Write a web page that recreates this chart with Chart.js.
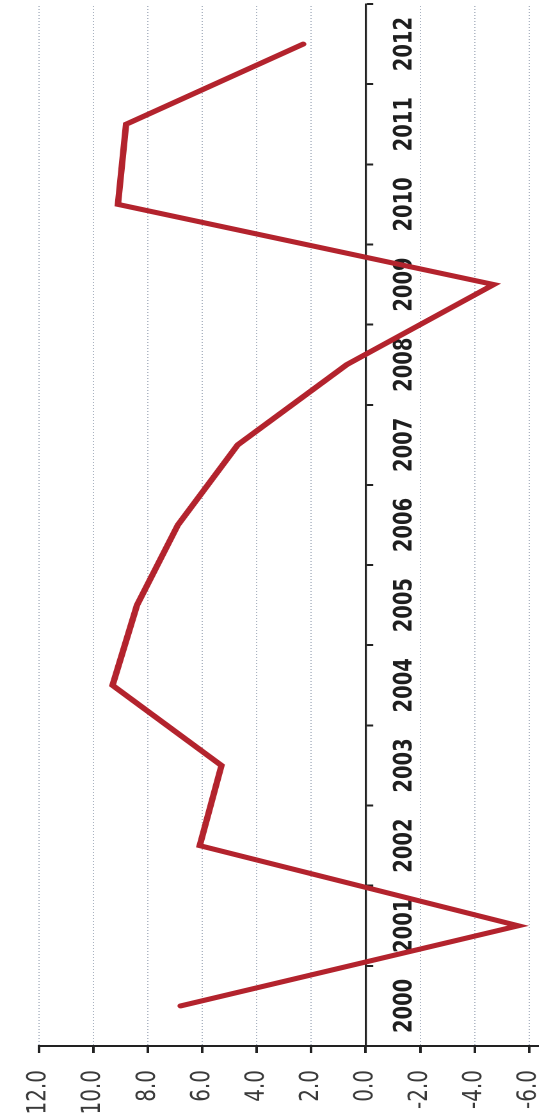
<!DOCTYPE html>
<html>
<head>
<meta charset="utf-8">
<script src="https://cdn.jsdelivr.net/npm/chart.js@4.4.1/dist/chart.umd.min.js"></script>
<style>
  html, body { margin: 0; padding: 0; background: #ffffff; overflow: hidden; }
  body { width: 539px; height: 1115px; position: relative; }
  /* chart is drawn upright, then turned a quarter to the left like the picture */
  #wrap {
    position: absolute; left: 0; top: 0;
    width: 1115px; height: 453px;
    transform-origin: 0 0;
    transform: translate(0px, 1115px) rotate(-90deg) scaleY(1.28);
  }
</style>
</head>
<body>
<div id="wrap"><canvas id="growthChart" width="1115" height="453"></canvas></div>
<script>
// Data
const years = ['2000', '2001', '2002', '2003', '2004', '2005', '2006', '2007', '2008', '2009', '2010', '2011', '2012'];
const values = [6.8, -5.6, 6.1, 5.3, 9.3, 8.4, 6.9, 4.7, 0.7, -4.7, 9.1, 8.8, 2.3];
const valueTicks = [-6, -4, -2, 0, 2, 4, 6, 8, 10, 12];

let growthChart;

document.addEventListener('DOMContentLoaded', function() {
    const ctx = document.getElementById('growthChart');

    growthChart = new Chart(ctx.getContext('2d'), {
        type: 'line',
        data: {
            labels: years,
            datasets: [{
                data: values,
                borderColor: '#b3232d',
                borderWidth: 5,
                borderCapStyle: 'round',
                borderJoinStyle: 'miter',
                pointRadius: 0,
                fill: false,
                tension: 0
            }]
        },
        options: {
            responsive: false,
            animation: false,
            devicePixelRatio: 2,
            layout: {
                padding: { top: 30.5, right: 4, bottom: 7.8, left: 0 }
            },
            plugins: {
                legend: { display: false },
                tooltip: { enabled: false }
            },
            scales: {
                x: {
                    type: 'category',
                    position: { y: 0 },
                    offset: true,
                    // axis sits on the zero line, so it should take no room
                    afterFit: axis => {
                        axis.height = 0;
                    },
                    grid: {
                        offset: true,
                        drawOnChartArea: false,
                        drawTicks: true,
                        tickLength: 5,
                        tickWidth: 2,
                        tickColor: '#222222'
                    },
                    border: { display: true, color: '#222222', width: 1.6 },
                    ticks: {
                        color: '#1e1e1e',
                        padding: 14,
                        maxRotation: 0,
                        autoSkip: false,
                        font: { family: 'DejaVu Sans', size: 19.5, weight: 'bold' }
                    }
                },
                y: {
                    min: -6.5,
                    max: 12,
                    afterBuildTicks: axis => {
                        axis.ticks = valueTicks.map(v => ({ value: v }));
                    },
                    afterFit: axis => {
                        axis.width = 69;
                    },
                    grid: {
                        color: '#a9b2c0',
                        lineWidth: 1,
                        drawTicks: true,
                        tickLength: 7,
                        tickWidth: 2,
                        tickColor: '#222222',
                        tickBorderDash: [4, 0]
                    },
                    border: { display: true, color: '#222222', width: 2, dash: [1, 2] },
                    ticks: {
                        color: '#3a3a3a',
                        padding: 17,
                        font: { family: 'DejaVu Sans', size: 20 },
                        callback: v => v.toFixed(1)
                    }
                }
            }
        }
    });
});
</script>
</body>
</html>
